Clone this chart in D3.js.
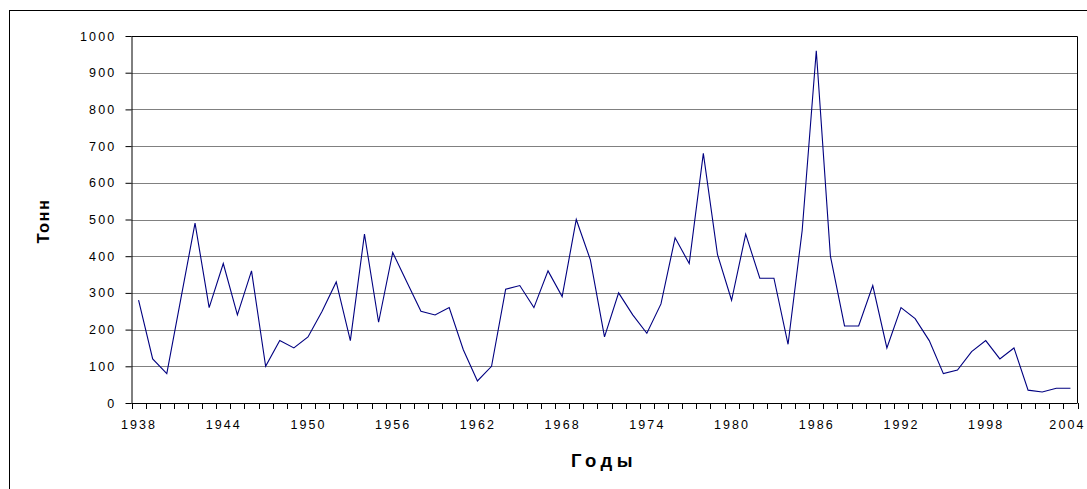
<!DOCTYPE html>
<html>
<head>
<meta charset="utf-8">
<script src="https://cdn.jsdelivr.net/npm/d3@7"></script>
<style>
  body { margin: 0; background: #fff; }
  svg { display: block; font-family: "Liberation Sans", Arial, sans-serif; }
</style>
</head>
<body>
<svg id="chart" width="1087" height="489"></svg>
<script>
// years 1938..2004
var years = d3.range(1938, 2005);
// tonnes per year
var tonnes = [
  280, 120, 80, 285, 490, 260, 380, 240, 360, 100,
  170, 150, 180, 250, 330, 170, 460, 220, 410, 330,
  250, 240, 260, 145, 60, 100, 310, 320, 260, 360,
  290, 500, 390, 180, 300, 240, 190, 270, 450, 380,
  680, 405, 280, 460, 340, 340, 160, 470, 960, 400,
  210, 210, 320, 150, 260, 230, 170, 80, 90, 140,
  170, 120, 150, 35, 30, 40, 40
];
var labelYears = [1938, 1944, 1950, 1956, 1962, 1968, 1974, 1980, 1986, 1992, 1998, 2004];
var yTicks = d3.range(0, 1001, 100);

var svg = d3.select('#chart');
var plotLeft = 131.5, plotRight = 1077.5, plotTop = 36, plotBottom = 403;

// outer chart frame (cropped on right/bottom)
svg.append('rect')
  .attr('x', 9.5).attr('y', 10.5)
  .attr('width', 1100).attr('height', 500)
  .style('fill', 'none').style('stroke', '#000').style('stroke-width', 1);

var x = d3.scaleBand().domain(years).range([plotLeft, plotRight]).padding(0);
var y = d3.scaleLinear().domain([0, 1000]).range([plotBottom, plotTop]);

// gridlines
svg.append('g')
  .selectAll('line')
  .data(yTicks.filter(d => d > 0 && d < 1000))
  .enter().append('line')
  .attr('x1', plotLeft).attr('x2', plotRight)
  .attr('y1', d => Math.round(y(d)) + 0.5).attr('y2', d => Math.round(y(d)) + 0.5)
  .style('stroke', '#808080').style('stroke-width', 1);

// plot border top/right
svg.append('path')
  .attr('d', `M${plotLeft},${plotTop + 0.5}H${plotRight}V${plotBottom}`)
  .style('fill', 'none').style('stroke', '#000').style('stroke-width', 1);

// y axis
var yAxis = svg.append('g')
  .attr('transform', `translate(${plotLeft},0)`)
  .call(d3.axisLeft(y).tickValues(yTicks).tickFormat(d3.format('d'))
    .tickSizeInner(6).tickSizeOuter(0).tickPadding(9));
yAxis.select('.domain').style('stroke', '#000');
yAxis.selectAll('line').style('stroke', '#000');
yAxis.selectAll('text')
  .style('font-size', '12.5px').style('letter-spacing', '2.2px').style('fill', '#000')
  .style('font-family', '"Liberation Sans", Arial, sans-serif');

// x axis: labels every 6 years, ticks on category boundaries
var xAxis = svg.append('g')
  .attr('transform', `translate(0,${plotBottom + 0.5})`)
  .call(d3.axisBottom(x).tickValues(labelYears).tickSize(0).tickPadding(17));
xAxis.select('.domain').remove();
xAxis.selectAll('text')
  .attr('dx', d => d == 2004 ? '-3px' : '0.5px')
  .style('font-size', '12.5px').style('letter-spacing', '2.1px').style('fill', '#000')
  .style('font-family', '"Liberation Sans", Arial, sans-serif');

svg.append('line')
  .attr('x1', plotLeft).attr('x2', plotRight)
  .attr('y1', plotBottom + 0.5).attr('y2', plotBottom + 0.5)
  .style('stroke', '#000');

svg.append('g')
  .selectAll('line')
  .data(years.concat([2005]))
  .enter().append('line')
  .attr('x1', d => Math.round(d == 2005 ? plotRight : x(d)) + 0.5)
  .attr('x2', d => Math.round(d == 2005 ? plotRight : x(d)) + 0.5)
  .attr('y1', plotBottom).attr('y2', plotBottom + 6)
  .style('stroke', '#000');

// data line
var line = d3.line()
  .x((d, i) => x(years[i]) + x.bandwidth() / 2)
  .y(d => y(d));

svg.append('path')
  .datum(tonnes)
  .attr('d', line)
  .style('fill', 'none')
  .style('stroke', '#000080')
  .style('stroke-width', 1.1);

// axis titles
svg.append('text')
  .attr('transform', 'translate(49,221) rotate(-90)')
  .attr('text-anchor', 'middle')
  .style('font-size', '16.5px').style('font-weight', 'bold').style('letter-spacing', '1.5px')
  .text('Тонн');

svg.append('text')
  .attr('x', 604).attr('y', 467)
  .attr('text-anchor', 'middle')
  .style('font-size', '18.5px').style('font-weight', 'bold').style('letter-spacing', '4.5px')
  .text('Годы');
</script>
</body>
</html>
